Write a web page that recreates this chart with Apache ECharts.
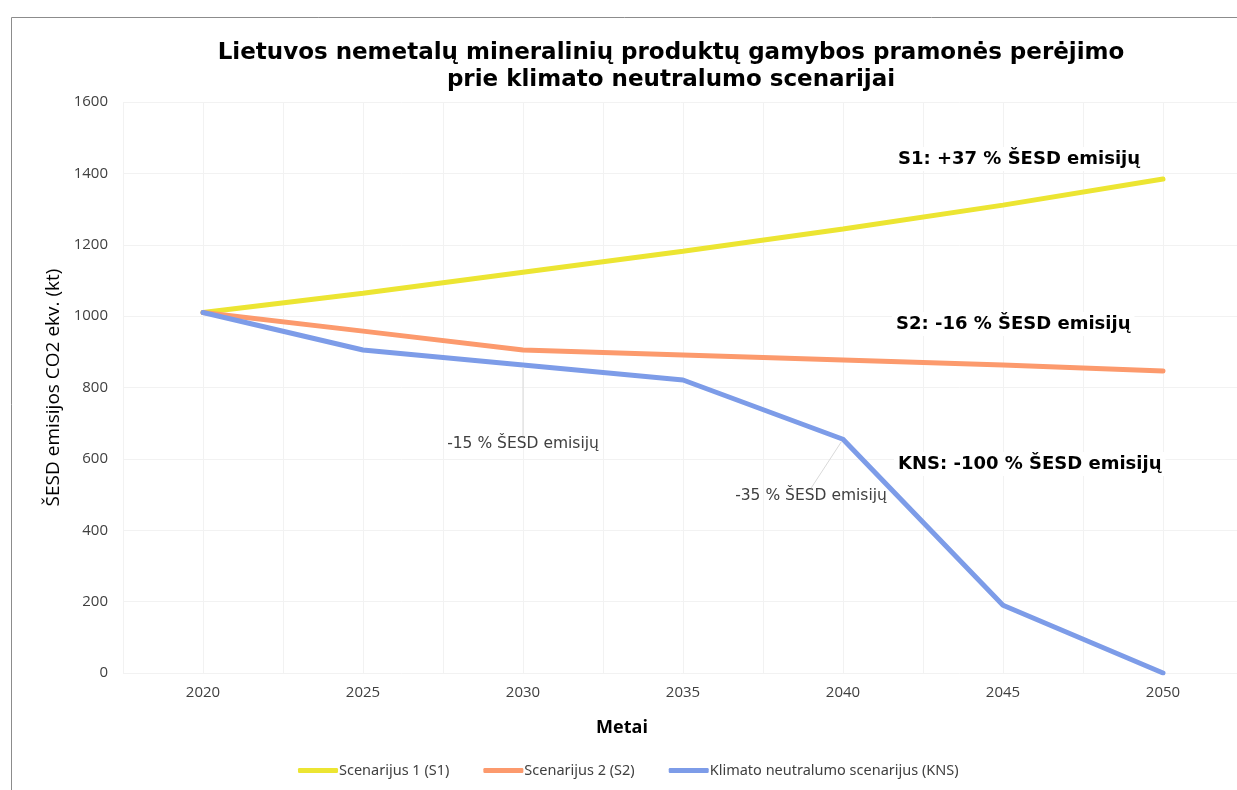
<!DOCTYPE html>
<html>
<head>
<meta charset="utf-8">
<script src="https://cdn.jsdelivr.net/npm/echarts@6/dist/echarts.min.js"></script>
<style>
  html, body { margin: 0; padding: 0; background: #fff; }
  #chart { width: 1237px; height: 790px; }
</style>
</head>
<body>
<div id="chart"></div>
<script>
// metai ir scenarijų reikšmės (kt CO2 ekv.)
var years = [2020, 2025, 2030, 2035, 2040, 2045, 2050]
var s1 = [1010, 1064, 1123, 1182, 1244, 1311, 1384]
var s2 = [1010, 958, 905, 891, 877, 863, 846]
var kns = [1010, 905, 863, 821, 655, 190, 0]
var seriesNames = ['Scenarijus 1 (S1)', 'Scenarijus 2 (S2)', 'Klimato neutralumo scenarijus (KNS)']
var knsLabels = { 2: '-15 % ŠESD emisijų', 4: '-35 % ŠESD emisijų' }

var colors = ['#ECE532', '#FC9A6D', '#7D9CE8']

function pairs (vals) {
  return vals.map(function (v, i) { return [years[i], v] })
}

var knsData = pairs(kns).map(function (p, i) {
  if (knsLabels[i]) {
    return {
      value: p,
      label: { show: true, formatter: knsLabels[i], position: 'bottom',
        color: '#404040', fontSize: 15.5, fontFamily: 'DejaVu Sans' },
      labelLine: { show: true, lineStyle: { color: '#D9D9D9', width: 1 } }
    }
  }
  return p
})

// teksto langeliai su baltu fonu (kaip Excel)
var boldText = { fontFamily: 'DejaVu Sans', fontWeight: 'bold', fontSize: 18, fill: '#000',
  backgroundColor: '#fff', padding: [3, 4] }

var myChart = echarts.init(document.getElementById('chart'))
var option = {
  animation: false,
  color: colors,
  title: {
    text: 'Lietuvos nemetalų mineralinių produktų gamybos pramonės perėjimo\nprie klimato neutralumo scenarijai',
    left: 666,
    textAlign: 'center',
    top: 35,
    textStyle: { fontFamily: 'DejaVu Sans', fontWeight: 'bold', fontSize: 23, color: '#000', lineHeight: 27 }
  },
  grid: { left: 123, top: 102, width: 1120, height: 571, outerBoundsMode: 'none' },
  legend: {
    bottom: 7,
    left: 293,
    itemWidth: 40,
    itemHeight: 5,
    itemGap: 34,
    icon: 'roundRect',
    textStyle: { fontFamily: 'Noto Sans', fontSize: 14.5, color: '#404040', padding: [0, 0, 0, -4] },
    data: seriesNames
  },
  xAxis: {
    type: 'value',
    min: 2017.5,
    max: 2052.5,
    interval: 2.5,
    name: 'Metai',
    nameLocation: 'middle',
    nameGap: 46,
    nameTextStyle: { fontFamily: 'Open Sans', fontWeight: 'bold', fontSize: 18, color: '#000',
      padding: [0, 122, 0, 0] },
    axisLine: { show: false },
    axisTick: { show: false },
    axisLabel: {
      margin: 12,
      fontFamily: 'Open Sans', fontSize: 15, color: '#404040',
      formatter: function (v) { return (v % 5 === 0) ? String(v) : '' }
    },
    splitLine: { show: true, lineStyle: { color: '#F2F2F2' } }
  },
  yAxis: {
    type: 'value',
    min: 0,
    max: 1600,
    interval: 200,
    name: 'ŠESD emisijos CO2 ekv. (kt)',
    nameLocation: 'middle',
    nameGap: 50,
    nameTextStyle: { fontFamily: 'Open Sans', fontSize: 19, color: '#000' },
    axisLine: { show: false },
    axisTick: { show: false },
    axisLabel: { margin: 15, fontFamily: 'Open Sans', fontSize: 15, color: '#404040',
      formatter: function (v) { return String(v) } },
    splitLine: { lineStyle: { color: '#F2F2F2' } }
  },
  graphic: [
    { type: 'rect', left: 9, top: 15, shape: { width: 1300, height: 900 },
      style: { fill: 'none', stroke: '#8C8C8C', lineWidth: 1 }, silent: true, z: -1 },
    { type: 'text', left: 894, top: 147, z: 100, style: Object.assign({ text: 'S1: +37 % ŠESD emisijų' }, boldText) },
    { type: 'text', left: 892, top: 312, z: 100, style: Object.assign({ text: 'S2: -16 % ŠESD emisijų' }, boldText) },
    { type: 'text', left: 894, top: 452, z: 100, style: Object.assign({ text: 'KNS: -100 % ŠESD emisijų' }, boldText) }
  ],
  series: [
    {
      name: seriesNames[0], type: 'line', data: pairs(s1), showSymbol: false,
      lineStyle: { width: 5, cap: 'round' }
    },
    {
      name: seriesNames[1], type: 'line', data: pairs(s2), showSymbol: false,
      lineStyle: { width: 5, cap: 'round' }
    },
    {
      name: seriesNames[2], type: 'line', data: knsData,
      symbol: 'circle', symbolSize: 4, showSymbol: true,
      lineStyle: { width: 5, cap: 'round' },
      labelLayout: function (params) {
        if (params.dataIndex === 2) return { dx: 0, dy: 64 }
        if (params.dataIndex === 4) return { dx: -32, dy: 42 }
        return {}
      }
    }
  ]
}
myChart.setOption(option)
</script>
</body>
</html>
